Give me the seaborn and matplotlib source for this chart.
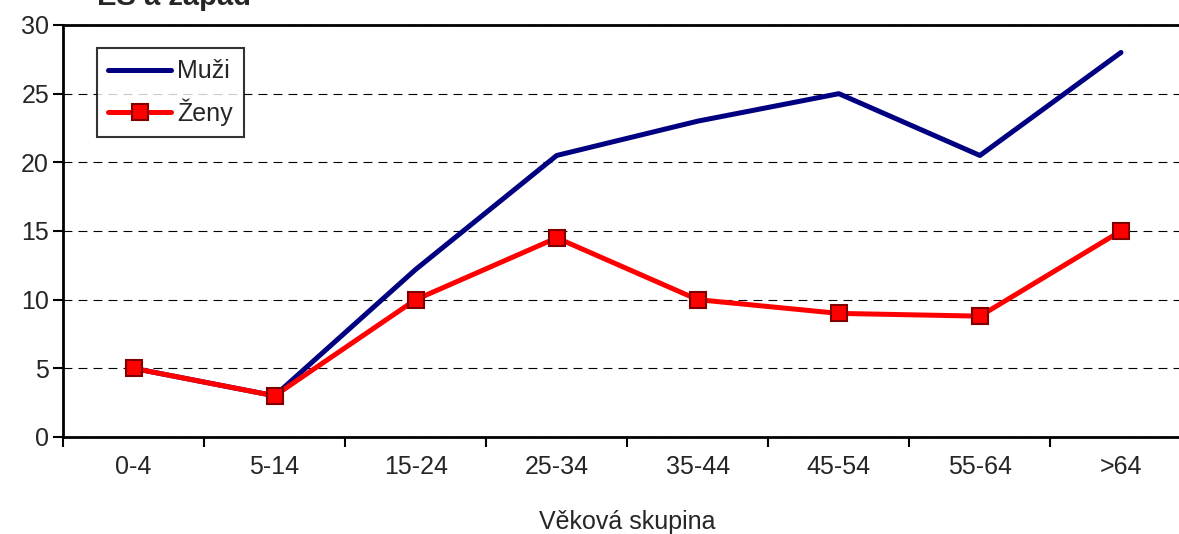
import pandas as pd
import matplotlib.pyplot as plt
import seaborn as sns
from matplotlib.ticker import FixedLocator

# Data
age_groups = ["0-4", "5-14", "15-24", "25-34", "35-44", "45-54", "55-64", ">64"]
muzi = [5, 3, 12.2, 20.5, 23.0, 25.0, 20.5, 28.0]
zeny = [5, 3, 10.0, 14.5, 10.0, 9.0, 8.8, 15.0]

df = pd.DataFrame({
    "Věková skupina": age_groups * 2,
    "Hodnota": muzi + zeny,
    "Pohlaví": ["Muži"] * len(muzi) + ["Ženy"] * len(zeny),
})

sns.set_theme(style="white")
plt.rcParams['font.family'] = ['Liberation Sans', 'DejaVu Sans']

W, H = 1179, 534
fig = plt.figure(figsize=(W / 100, H / 100), dpi=100)
ax = fig.add_axes([63 / W, (H - 437) / H, (1191.5 - 63) / W, (437 - 25) / H])

sns.lineplot(data=df[df["Pohlaví"] == "Muži"], x="Věková skupina", y="Hodnota",
             color="#000080", linewidth=3.6, ax=ax, label="Muži", sort=False)
sns.lineplot(data=df[df["Pohlaví"] == "Ženy"], x="Věková skupina", y="Hodnota",
             color="#FF0000", linewidth=3.6, marker="s", markersize=12,
             markerfacecolor="#FF0000", markeredgecolor="#800000", markeredgewidth=1.5,
             ax=ax, label="Ženy", sort=False)

ax.set_xlim(-0.5, len(age_groups) - 0.5)
ax.set_ylim(0, 30)
ax.set_yticks(range(0, 31, 5))
ax.yaxis.grid(True, linestyle=(0, (8, 5.5)), color="black", linewidth=0.8)
ax.set_axisbelow(True)

# category labels centred, tick marks at the boundaries
ax.set_xticks(range(len(age_groups)))
ax.set_xticklabels(age_groups)
ax.xaxis.set_minor_locator(FixedLocator([i - 0.5 for i in range(len(age_groups) + 1)]))
ax.tick_params(axis="x", which="major", length=0, pad=13, labelsize=18)
ax.tick_params(axis="x", which="minor", length=7, width=1.5, color="black", bottom=True)
ax.tick_params(axis="y", length=7, width=1.5, color="black", left=True, labelsize=18, pad=3)

for side in ["left", "bottom", "top"]:
    ax.spines[side].set_visible(True)
    ax.spines[side].set_color("black")
    ax.spines[side].set_linewidth(2)
ax.spines["right"].set_visible(False)

ax.set_xlabel("Věková skupina", fontsize=18)
ax.xaxis.label.set_va("center")
ax.xaxis.set_label_coords((627 - 63) / 1128.5, (437 - 522) / 412)
ax.set_ylabel("")

leg = ax.legend(loc="upper left", bbox_to_anchor=((97 - 63) / 1128.5, (437 - 48) / 412),
                borderaxespad=0, fontsize=18, frameon=True, fancybox=False,
                edgecolor="black", handlelength=2.5, handletextpad=0.25,
                borderpad=0.45, labelspacing=0.6)
leg.get_frame().set_linewidth(1.5)

fig.text(97 / W, 1.0 - 5 / H, "ES a západ", fontsize=21, fontweight="bold",
         ha="left", va="baseline")

fig.savefig("out.png", dpi=100)
